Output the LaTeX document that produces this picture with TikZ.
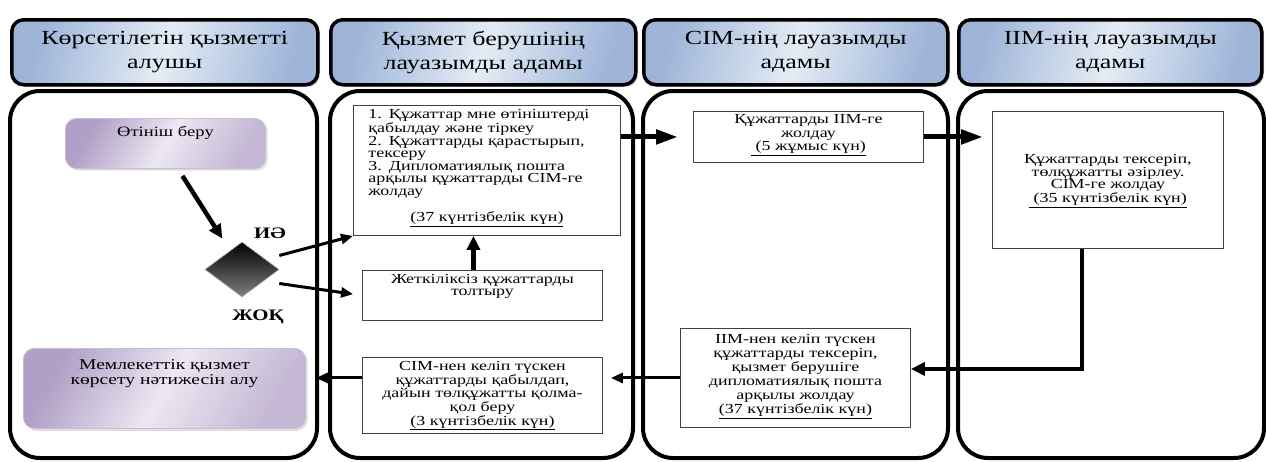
\documentclass[tikz,border=0pt]{standalone}
\usepackage{fontspec}
\setmainfont{Liberation Serif}[FakeStretch=1.3]
\usetikzlibrary{shapes.geometric,arrows.meta,shadows}

\definecolor{hdrA}{HTML}{9DB4D8}
\definecolor{hdrB}{HTML}{E4ECF5}
\definecolor{purA}{HTML}{B09FC6}
\definecolor{purB}{HTML}{ECE7F2}
\definecolor{boxline}{HTML}{404040}

\tikzset{
	header/.style={draw, line width=3.5pt, rounded corners=12pt, anchor=north west, align=center, inner sep=0pt,
		left color=hdrA, right color=hdrA, middle color=hdrB, shading angle=75,
		drop shadow={opacity=0.35}, font=\fontsize{20}{24}\selectfont},
	lane/.style={line width=4pt, rounded corners=30pt},
	box/.style={draw=boxline, line width=0.9pt, fill=white, anchor=north west, align=center,
		inner xsep=4pt, inner ysep=0pt, font=\fontsize{13.8}{13}\selectfont},
	purple box/.style={box, draw=purA!70, rounded corners=11pt,
		left color=purA, right color=purA!75, middle color=purB, shading angle=60,
		drop shadow={opacity=0.25}},
	flow/.style={->, line width=3pt, >={Triangle[length=12pt,width=10pt]}},
	heavy flow/.style={->, line width=4.5pt, >={Triangle[length=14pt,width=13pt]}},
	bold flow/.style={->, line width=5pt, >={Triangle[length=22pt,width=14pt]}},
	answer/.style={font=\fontsize{16}{16}\selectfont\bfseries, inner sep=0pt}
}

\begin{document}
\begin{tikzpicture}[x=1pt,y=-1pt]
	\useasboundingbox (0,0) rectangle (1266,461);
	%жолақтар
	\draw [lane] (10,91) rectangle (317,458);
	\draw [lane] (330,91) rectangle (633,458);
	\draw [lane] (643,91) rectangle (948,458);
	\draw [lane] (958,91) rectangle (1264,458);
	
	%тақырыптар
	\node [header, minimum width=306pt, minimum height=65pt] (h1) at (10,18) {Көрсетілетін қызметті\\алушы};
	\node [header, minimum width=305pt, minimum height=65pt] (h2) at (329,18) {Қызмет берушінің\\лауазымды адамы};
	\node [header, minimum width=304pt, minimum height=65pt] (h3) at (642,18) {СІМ-нің лауазымды\\адамы};
	\node [header, minimum width=303pt, minimum height=65pt] (h4) at (957,18) {ІІМ-нің лауазымды\\адамы};
	
	%алушы
	\node [purple box, text width=192pt, text height=18.5pt, text depth=31.5pt, font=\fontsize{14.3}{15}\selectfont] (give) at (65,118) {Өтініш беру};
	\node [diamond, aspect=1.35, minimum width=74pt, minimum height=55pt, inner sep=0pt, draw=gray!70, line width=0.6pt, top color=black, bottom color=gray] (dia) at (242,269.5) {};
	\node [answer] (yes) at (270,233) {ИӘ};
	\node [answer] (no) at (258,317) {ЖОҚ};
	\node [purple box, text width=274pt, text height=21pt, text depth=59pt, font=\fontsize{15}{15}\selectfont] (result) at (23,348) {Мемлекеттік қызмет\\көрсету нәтижесін алу};
	
	%қызмет беруші
	\node [box, align=left, inner xsep=15pt, text width=237pt, text height=13.5pt, text depth=116.5pt, font=\fontsize{13.8}{12.5}\selectfont] (accept) at (353,105) {1. Құжаттар мне өтініштерді\\қабылдау және тіркеу\\2. Құжаттарды қарастырып,\\тексеру\\3. Дипломатиялық пошта\\арқылы құжаттарды СІМ-ге\\жолдау\\[12.5pt]\makebox[\linewidth]{\underline{(37 күнтізбелік күн)}}};
	\node [box, text width=232pt, text height=13.5pt, text depth=36.5pt, font=\fontsize{13.8}{12}\selectfont] (missing) at (362,270) {Жеткіліксіз құжаттарды\\толтыру};
	\node [box, text width=232pt, text height=13.5pt, text depth=62.5pt, font=\fontsize{13.8}{12.7}\selectfont] (handover) at (362,357) {СІМ-нен келіп түскен\\құжаттарды қабылдап,\\дайын төлқұжатты қолма-\\қол беру\\\underline{(3 күнтізбелік күн)}};
	
	%СІМ
	\node [box, text width=222pt, text height=12.5pt, text depth=38.5pt, font=\fontsize{13.8}{13.5}\selectfont] (forward) at (693,111) {Құжаттарды ІІМ-ге\\жолдау\\\underline{\ (5 жұмыс күн)}};
	\node [box, text width=222pt, text height=15.5pt, text depth=83.5pt, font=\fontsize{13.8}{14}\selectfont] (check) at (680,328) {ІІМ-нен келіп түскен\\құжаттарды тексеріп,\\қызмет берушіге\\дипломатиялық пошта\\арқылы жолдау\\\underline{(37 күнтізбелік күн)}};
	
	%ІІМ
	\node [box, text width=223pt, text height=52.5pt, text depth=84.5pt, font=\fontsize{13.8}{12.3}\selectfont] (prepare) at (992,111) {Құжаттарды тексеріп,\\төлқұжатты әзірлеу.\\СІМ-ге жолдау\\\underline{\ (35 күнтізбелік күн)}};
	
	%бағыттар
	\draw [heavy flow] ([shift={(17,7)}]give.south) -- ([shift={(-1,-17)}]dia.north west);
	\draw [flow] ([yshift=14pt]dia.east) -- (accept.south west);
	\draw [flow, shorten >=9pt] ([yshift=-14pt]dia.east) -- (missing.west);
	\draw [heavy flow] ([xshift=-9pt]missing.north) -- ([xshift=-9pt]missing.north |- accept.south);
	\draw [bold flow, shorten >=15pt] (forward.west -| accept.east) -- (forward.west);
	\draw [bold flow, shorten >=9pt] (forward.east) -- (forward.east -| prepare.west);
	\draw [heavy flow] ([xshift=-26pt]prepare.south) |- ([yshift=9pt]check.east);
	\draw [flow, shorten >=8pt] (check.west) -- (check.west -| handover.east);
	\draw [flow, shorten >=10pt] (handover.west |- check.west) -- (result.east |- check.west);
\end{tikzpicture}
\end{document}
